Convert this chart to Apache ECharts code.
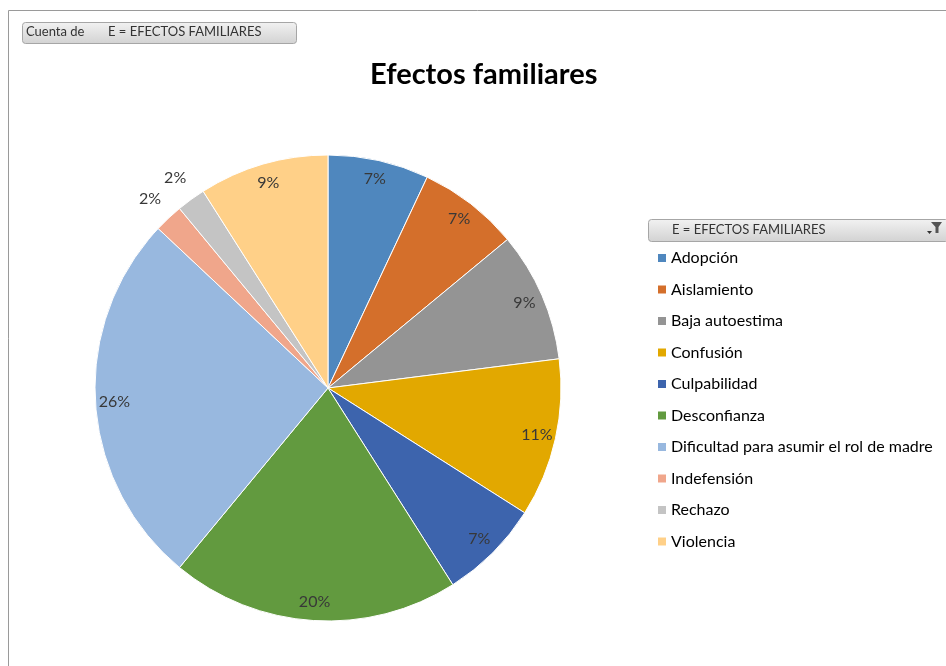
<!DOCTYPE html>
<html>
<head>
<meta charset="utf-8">
<script src="https://cdn.jsdelivr.net/npm/echarts@6/dist/echarts.min.js"></script>
<style>
  html, body { margin: 0; padding: 0; background: #fff; }
  #chart { width: 946px; height: 666px; }
</style>
</head>
<body>
<div id="chart"></div>
<script>
// Efectos familiares — share of each category (percent)
const categories = [
  'Adopción', 'Aislamiento', 'Baja autoestima', 'Confusión', 'Culpabilidad',
  'Desconfianza', 'Dificultad para asumir el rol de madre', 'Indefensión',
  'Rechazo', 'Violencia'
];
const shares = [7, 7, 9, 11, 7, 20, 26, 2, 2, 9];
const colors = [
  '#4F87BE', '#D46F2B', '#949494', '#E2A800', '#3D64AD',
  '#629A3F', '#98B8DF', '#F0A68B', '#C4C4C4', '#FFD088'
];
// slices too thin to hold their label inside
const outsideLabels = ['Indefensión', 'Rechazo'];

const FONT = 'Lato, "Open Sans", sans-serif';
const cx = 328, cy = 388, R = 233;

const chart = echarts.init(document.getElementById('chart'), null, { renderer: 'canvas' });

const sliceData = categories.map((name, i) => ({
  name, value: shares[i], itemStyle: { color: colors[i] }
}));

// label rings share the same angles as the pie slices
const innerLabelData = categories.map((name, i) => ({
  name, value: shares[i],
  label: { show: !outsideLabels.includes(name) }
}));
const outerLabelData = categories.map((name, i) => ({
  name, value: shares[i],
  label: { show: outsideLabels.includes(name) }
}));

const labelCommon = {
  position: 'inside',
  formatter: p => p.value + '%',
  color: '#383838',
  fontFamily: FONT,
  fontSize: 16
};

function button(x, y, w, h) {
  return {
    type: 'rect',
    shape: { x, y, width: w, height: h, r: 3 },
    style: {
      fill: new echarts.graphic.LinearGradient(0, 0, 0, 1, [
        { offset: 0, color: '#F2F2F2' },
        { offset: 1, color: '#D2D2D2' }
      ]),
      stroke: '#A6A6A6',
      lineWidth: 1
    },
    silent: true
  };
}

chart.setOption({
  backgroundColor: '#fff',
  animation: false,
  title: {
    text: 'Efectos familiares',
    left: 370,
    top: 60,
    textStyle: { fontFamily: FONT, fontSize: 29, fontWeight: 'bold', color: '#000' },
    padding: 0
  },
  legend: {
    orient: 'vertical',
    left: 656,
    top: 250,
    padding: 0,
    icon: 'rect',
    itemWidth: 10,
    itemHeight: 10,
    itemGap: 15.5,
    selectedMode: false,
    data: categories,
    textStyle: { fontFamily: FONT, fontSize: 16, color: '#000', lineHeight: 16, padding: [0, 0, 0, -1] }
  },
  graphic: [
    // chart frame (top and left edges)
    { type: 'line', shape: { x1: 8.5, y1: 10.5, x2: 946, y2: 10.5 }, style: { stroke: '#9A9A9A', lineWidth: 1 }, silent: true },
    { type: 'line', shape: { x1: 8.5, y1: 10.5, x2: 8.5, y2: 666 }, style: { stroke: '#9A9A9A', lineWidth: 1 }, silent: true },
    // value field button
    button(22.5, 22.5, 274, 21),
    { type: 'text', left: 26, top: 25, silent: true,
      style: { text: 'Cuenta de', fontFamily: FONT, fontSize: 13, fill: '#333' } },
    { type: 'text', left: 108, top: 25, silent: true,
      style: { text: 'E = EFECTOS FAMILIARES', fontFamily: FONT, fontSize: 13, fill: '#333' } },
    // legend field button
    button(648.5, 219.5, 300, 22),
    { type: 'text', left: 672, top: 223, silent: true,
      style: { text: 'E = EFECTOS FAMILIARES', fontFamily: FONT, fontSize: 13, fill: '#333' } },
    // filter funnel icon
    { type: 'polygon', silent: true,
      shape: { points: [[931, 222], [942, 222], [938.5, 227], [938.5, 233], [935.5, 233], [935.5, 227]] },
      style: { fill: '#555' } },
    { type: 'polygon', silent: true,
      shape: { points: [[927, 231], [932, 231], [929.5, 234]] },
      style: { fill: '#333' } }
  ],
  series: [
    {
      type: 'pie',
      center: [cx, cy],
      radius: [0, R],
      startAngle: 90,
      clockwise: true,
      silent: true,
      label: { show: false },
      labelLine: { show: false },
      itemStyle: { borderColor: '#fff', borderWidth: 1 },
      data: sliceData
    },
    {
      // percentage labels near the rim
      type: 'pie',
      center: [cx, cy],
      radius: [R - 43, R - 1],
      startAngle: 90,
      clockwise: true,
      silent: true,
      legendHoverLink: false,
      itemStyle: { color: 'rgba(0,0,0,0)' },
      label: labelCommon,
      labelLine: { show: false },
      data: innerLabelData
    },
    {
      // labels for slivers, just outside the rim
      type: 'pie',
      center: [cx, cy],
      radius: [R + 13, R + 35],
      startAngle: 90,
      clockwise: true,
      silent: true,
      legendHoverLink: false,
      itemStyle: { color: 'rgba(0,0,0,0)' },
      label: labelCommon,
      labelLine: { show: false },
      data: outerLabelData
    }
  ]
});
</script>
</body>
</html>
